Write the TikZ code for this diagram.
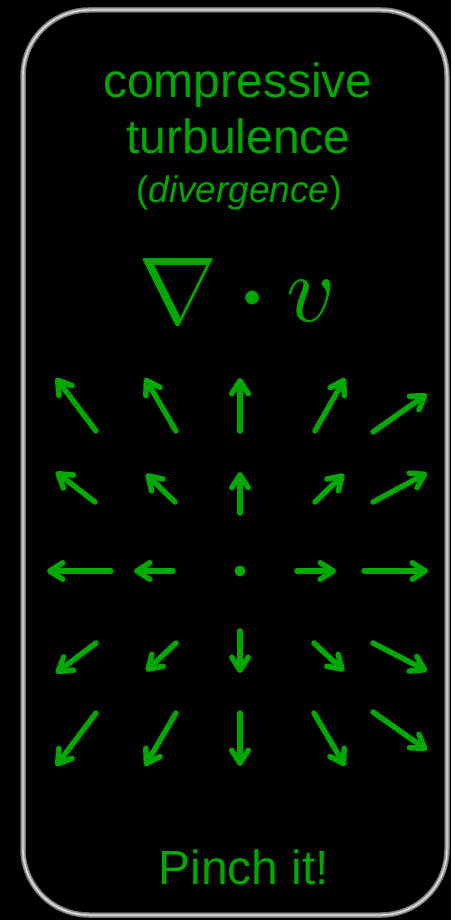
\documentclass[tikz,border=0pt]{standalone}
\usepackage{graphicx}
\usepackage{fontspec}
\setmainfont{Liberation Sans}
\usetikzlibrary{arrows.meta}
\definecolor{vgreen}{RGB}{0,168,0}
\definecolor{borderdark}{RGB}{110,110,110}
\definecolor{bordergray}{RGB}{160,160,160}
\definecolor{borderlight}{RGB}{220,220,220}
\tikzset{
  vec/.style={line width=5.5pt, vgreen, line cap=round,
    -{Straight Barb[length=13pt,width=16.5pt,round]}},
  title/.style={text=vgreen, inner sep=0pt, anchor=base},
  eq/.style={text=vgreen, inner sep=0pt},
}
\begin{document}
\begin{tikzpicture}[x=1pt,y=-1pt]
\fill[black] (0,0) rectangle (451,920);
\useasboundingbox (0,0) rectangle (451,920);
% border
\draw[borderdark, line width=5.5pt, rounded corners=66pt] (23,10) rectangle (447,915);
\draw[bordergray, line width=3.5pt, rounded corners=66pt] (23,10) rectangle (447,915);
\draw[borderlight, line width=1.4pt, rounded corners=66pt] (23,10) rectangle (447,915);
% texts
\node[title, font=\fontsize{48}{50}\selectfont] (t1) at (238,98) {compressive};
\node[title, font=\fontsize{48}{50}\selectfont] (t2) at (238.5,154) {turbulence};
\node[title, font=\fontsize{37}{40}\selectfont] (t3) at (239,202) {(\textit{divergence})};
\node[title, font=\fontsize{48}{50}\selectfont] (t4) at (244,884) {Pinch it!};
% equation
\node[eq] (nab) at (178.5,291) {\scalebox{9.5}{$\nabla$}};
\node[eq] (cd) at (253,302) {\scalebox{13}{$\cdot$}};
\node[eq] (vv) at (311,301) {\scalebox{9.5}{$v$}};
% vector field
\draw[vec] (96,431) -- (56,378);
\draw[vec] (176,431) -- (145,378);
\draw[vec] (240,431) -- (240,378);
\draw[vec] (315,431) -- (345,378);
\draw[vec] (373,432) -- (427,394);
\draw[vec] (95,502) -- (56,472);
\draw[vec] (175,502) -- (146,474);
\draw[vec] (240,513) -- (240,472);
\draw[vec] (315,502) -- (344,474);
\draw[vec] (373,502) -- (427,473);
\draw[vec] (111,571) -- (47,571);
\draw[vec] (173,571) -- (134,571);
\fill[vgreen] (240,571) circle (5.5pt);
\draw[vec] (297,571) -- (336,571);
\draw[vec] (364,571) -- (428,571);
\draw[vec] (96,643) -- (56,673);
\draw[vec] (176,643) -- (146,671);
\draw[vec] (240,631) -- (240,673);
\draw[vec] (314,643) -- (344,671);
\draw[vec] (373,643) -- (427,671);
\draw[vec] (96,713) -- (56,766);
\draw[vec] (176,713) -- (145,766);
\draw[vec] (240,713) -- (240,766);
\draw[vec] (314,713) -- (345,766);
\draw[vec] (373,712) -- (427,750);
\end{tikzpicture}
\end{document}
